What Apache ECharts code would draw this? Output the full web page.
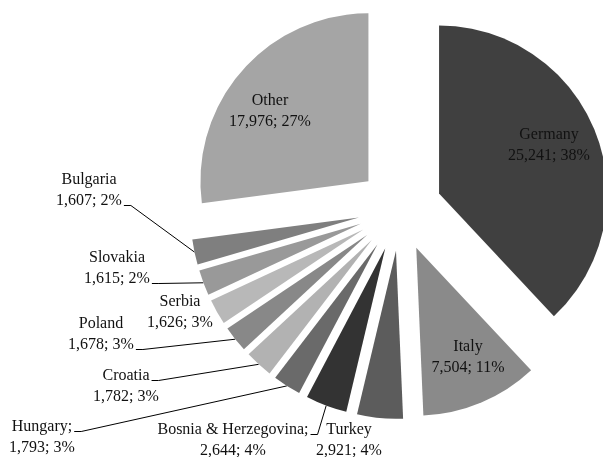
<!DOCTYPE html>
<html>
<head>
<meta charset="utf-8">
<script src="https://cdn.jsdelivr.net/npm/echarts@6/dist/echarts.min.js"></script>
<style>
  html, body { margin: 0; padding: 0; background: #fff; }
  #chart { width: 603px; height: 457px; }
</style>
</head>
<body>
<div id="chart"></div>
<script>
// ---- data ----
const categories = ['Germany', 'Italy', 'Turkey', 'Bosnia & Herzegovina', 'Hungary', 'Croatia', 'Poland', 'Serbia', 'Slovakia', 'Bulgaria', 'Other'];
const values = [25241, 7504, 2921, 2644, 1793, 1782, 1678, 1626, 1615, 1607, 17976];
const percentLabels = ['38%', '11%', '4%', '4%', '3%', '3%', '3%', '3%', '2%', '2%', '27%'];
const nameSuffix = ['', '', '', ';', ';', '', '', '', '', '', ''];

// ---- styling / layout (not data) ----
const colors = ['#404040', '#8a8a8a', '#5c5c5c', '#333333', '#6a6a6a', '#b2b2b2', '#888888', '#b8b8b8', '#999999', '#7f7f7f', '#a5a5a5'];
const CX = 400, CY = 209, R = 168, EXPLODE = 42;
const FONT_SIZE = 16, LINE_H = 21, FONT_FAMILY = 'Liberation Serif';
// label block centres
const labelPos = [
  [549, 145], [468, 357], [349, 440], [233, 440], [42, 437], [126, 386],
  [101, 334], [180, 312], [117, 268], [89, 190], [270, 111]
];
// leader line: 0 = none, 1 = from first text line, 2 = from second text line
const leaderFrom = [0, 0, 0, 1, 1, 1, 2, 0, 2, 2, 0];

function fmt(n) { return n.toLocaleString('en-US'); }
function labelLines(i) {
  return [categories[i] + nameSuffix[i], fmt(values[i]) + '; ' + percentLabels[i]];
}

const ctx = document.createElement('canvas').getContext('2d');
ctx.font = FONT_SIZE + 'px ' + FONT_FAMILY;
function textW(s) { return ctx.measureText(s).width; }

const total = values.reduce((a, b) => a + b, 0);

function midAngle(i) {
  let cum = 0;
  for (let k = 0; k < i; k++) cum += values[k];
  const frac = (cum + values[i] / 2) / total;
  return Math.PI / 2 - frac * Math.PI * 2; // math angle, counter-clockwise from +x
}

const labelStyle = {
  fontFamily: FONT_FAMILY,
  fontSize: FONT_SIZE,
  lineHeight: LINE_H,
  color: '#111',
  align: 'center'
};

const series = categories.map((cat, i) => {
  const a = midAngle(i);
  const ox = EXPLODE * Math.cos(a), oy = -EXPLODE * Math.sin(a);
  return {
    type: 'pie',
    silent: true,
    center: [CX + ox, CY + oy],
    radius: R,
    startAngle: 90,
    clockwise: true,
    avoidLabelOverlap: false,
    emphasis: { disabled: true },
    label: Object.assign({
      show: false,
      position: 'outside',
      formatter: p => labelLines(p.dataIndex).join('\n')
    }, labelStyle),
    labelLine: { show: false, length: 10, length2: 8, lineStyle: { color: '#000', width: 1 } },
    labelLayout: function (p) {
      if (p.dataIndex !== i) return {};
      const pos = labelPos[i];
      const res = { x: pos[0], y: pos[1], align: 'center', verticalAlign: 'middle' };
      if (leaderFrom[i]) {
        const ln = leaderFrom[i];
        const txt = labelLines(i)[ln - 1];
        const lineCy = pos[1] + (ln === 1 ? -LINE_H / 2 : LINE_H / 2);
        const ax = pos[0] + textW(txt) / 2 + 2;
        const ay = lineCy + 5;
        const arc = [CX + ox + R * Math.cos(a), CY + oy - R * Math.sin(a)];
        res.labelLinePoints = [arc, [ax + 7, ay], [ax, ay]];
      }
      return res;
    },
    data: values.map((v, j) => ({
      name: categories[j],
      value: v,
      itemStyle: { color: j === i ? colors[j] : 'rgba(0,0,0,0)', borderWidth: 0 },
      label: Object.assign({ show: j === i }, labelStyle),
      labelLine: { show: j === i && leaderFrom[j] > 0 }
    }))
  };
});

const chart = echarts.init(document.getElementById('chart'), null, { renderer: 'canvas' });
chart.setOption({
  animation: false,
  textStyle: { fontFamily: FONT_FAMILY },
  series: series
});
</script>
</body>
</html>
